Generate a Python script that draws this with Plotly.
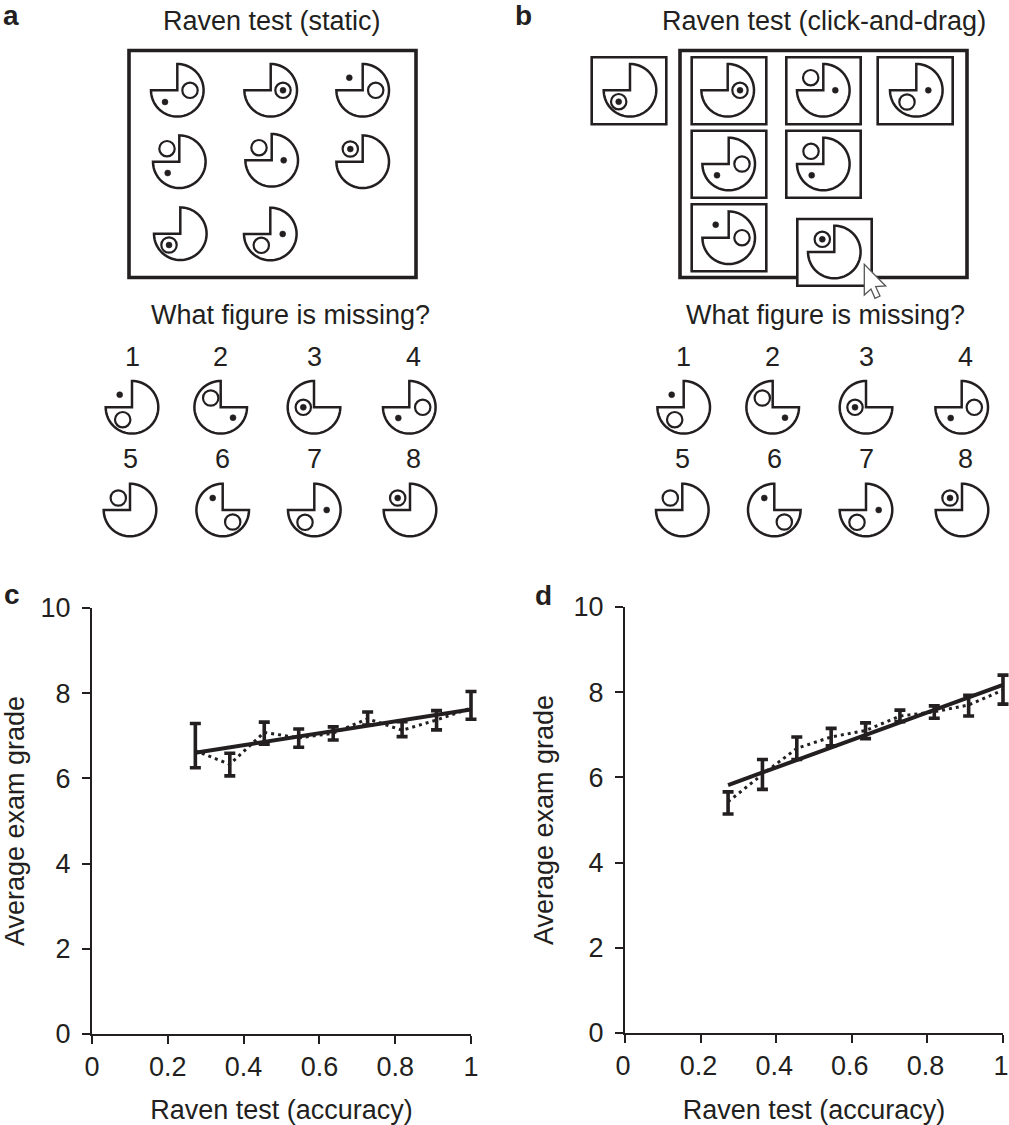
import numpy as np
import plotly.graph_objects as go

W = 1009
H = 1125
INK = "#231f20"
FONT = "Liberation Sans"

# binned accuracy on the Raven test
accuracy = [0.2727, 0.3636, 0.4545, 0.5454, 0.6364, 0.7273, 0.8182, 0.9091, 1.0]

# panel c, static test
grade_c = [6.65, 6.33, 7.08, 6.95, 7.06, 7.40, 7.13, 7.37, 7.65]
upper_c = [7.29, 6.59, 7.32, 7.16, 7.21, 7.56, 7.33, 7.59, 8.04]
lower_c = [6.25, 6.06, 6.80, 6.73, 6.90, 7.25, 6.98, 7.14, 7.39]
fit_x_c = [0.2727, 1.0]
fit_y_c = [6.60, 7.62]

# panel d, click-and-drag test
grade_d = [5.43, 6.07, 6.68, 6.95, 7.10, 7.44, 7.54, 7.70, 8.05]
upper_d = [5.66, 6.42, 6.95, 7.15, 7.28, 7.58, 7.68, 7.93, 8.40]
lower_d = [5.14, 5.72, 6.42, 6.74, 6.91, 7.31, 7.39, 7.44, 7.72]
fit_x_d = [0.2727, 1.0]
fit_y_d = [5.82, 8.17]

x_ticks = [0, 0.2, 0.4, 0.6, 0.8, 1]
x_tick_labels = ["0", "0.2", "0.4", "0.6", "0.8", "1"]
y_ticks = [0, 2, 4, 6, 8, 10]

# puzzle figures: centre x, centre y, missing quadrant, plain ring, dot, ring with dot
matrix_a = [
    (177.3, 90.3, "tl", (190, 90.3), (165, 102), None),
    (270.7, 90.3, "tl", None, None, (283, 90.3)),
    (362.7, 90.3, "tl", (375.7, 90.3), (349.3, 77.7), None),
    (179.3, 161.7, "tl", (167, 148.7), (167.7, 173), None),
    (271.7, 160.3, "tl", (259, 147.7), (283.7, 160.3), None),
    (362.7, 161.7, "tl", None, None, (350.3, 149)),
    (180.3, 233.7, "tl", None, None, (169, 245)),
    (270.3, 234, "tl", (261.3, 245.3), (282.7, 234), None),
]
options_a = [
    (132, 407.3, "tl", (122.7, 419.7), (119.7, 394.7), None),
    (220.7, 407.3, "tr", (210.7, 398), (233, 417.7), None),
    (314, 407.3, "tr", None, None, (303.3, 407.3)),
    (409.3, 407.3, "tl", (422.7, 407.3), (398.3, 418), None),
    (130, 510, "tl", (118.3, 498), None, None),
    (222.7, 510, "tr", (232.7, 522), (212.7, 498), None),
    (314.3, 510, "tl", (305, 522.3), (326.7, 510), None),
    (410, 510, "tl", None, None, (397.7, 498)),
]
options_b = [
    (683.7, 407.3, "tl", (674.7, 419.7), (671.7, 394.7), None),
    (772.7, 407.3, "tr", (762.3, 398), (785, 417.7), None),
    (866, 407.3, "tr", None, None, (855, 407.3)),
    (961.7, 407.3, "tl", (974.3, 407.3), (950.7, 418), None),
    (682.3, 510, "tl", (670.3, 498), None, None),
    (774.3, 510, "tr", (784.3, 522), (764.3, 498), None),
    (866, 510, "tl", (857, 522.3), (878.7, 510), None),
    (962, 510, "tl", None, None, (950, 498)),
]
# same, each one sitting in a box x0, x1, y0, y1
boxed_b = [
    ((591.7, 666.3, 57.3, 124.3), (630, 90.3, "tl", None, None, (618.7, 101.7))),
    ((691.7, 766.3, 57.3, 124.3), (727.7, 90.3, "tl", None, None, (740, 90.3))),
    ((786.3, 860.7, 57.3, 124.3), (823.3, 90.3, "tl", (810.7, 77.7), (835.3, 90.3), None)),
    ((877.7, 952.7, 57.3, 124.3), (916.3, 90.3, "tl", (907, 102), (928.3, 90.3), None)),
    ((691.7, 766.3, 130.7, 197.7), (728.7, 164, "tl", (742, 164), (717, 175.3), None)),
    ((786.3, 860.7, 130.7, 197.7), (823.3, 164, "tl", (811, 151.3), (811.7, 175.3), None)),
    ((691.7, 766.3, 204.3, 271.3), (728.7, 237.7, "tl", (742, 237.7), (715.7, 224.7), None)),
    ((797.3, 871.7, 219, 285.7), (834.3, 252, "tl", None, None, (822.3, 239.3))),
]
cursor = [(864.3, 264.3), (864.3, 295), (871, 289), (875, 298.3), (880, 296), (875.7, 286.7), (885.7, 286)]

# text, x, y, size
labels = [
    ("Raven test (static)", 272, 21, 27),
    ("Raven test (click-and-drag)", 823.5, 21, 27),
    ("What figure is missing?", 290, 315, 27),
    ("What figure is missing?", 825, 315, 27),
    ("1", 132, 357, 27), ("2", 220.7, 357, 27), ("3", 314, 357, 27), ("4", 413.3, 357, 27),
    ("5", 130, 459, 27), ("6", 222.3, 459, 27), ("7", 314, 459, 27), ("8", 413.3, 459, 27),
    ("1", 683.7, 357, 27), ("2", 772.7, 357, 27), ("3", 866, 357, 27), ("4", 965, 357, 27),
    ("5", 682.3, 459, 27), ("6", 774, 459, 27), ("7", 866, 459, 27), ("8", 965, 459, 27),
]
panel_letters = [("a", 11, 15.7), ("b", 523, 15.7), ("c", 12, 594.5), ("d", 543.5, 595.5)]


def px(x):
    return x / W


def py(y):
    return 1 - y / H


def path_from(points, close=True):
    d = "M" + " L".join(f"{px(x):.5f},{py(y):.5f}" for x, y in points)
    return d + (" Z" if close else "")


def disc(cx, cy, r, fill="rgba(0,0,0,0)", lw=2.2):
    return dict(type="circle", xref="paper", yref="paper",
                x0=px(cx - r), x1=px(cx + r), y0=py(cy + r), y1=py(cy - r),
                fillcolor=fill, line=dict(color=INK, width=lw))


def box(x0, x1, y0, y1, lw, fill="rgba(0,0,0,0)"):
    return dict(type="rect", xref="paper", yref="paper",
                x0=px(x0), x1=px(x1), y0=py(y1), y1=py(y0),
                fillcolor=fill, line=dict(color=INK, width=lw))


def puzzle_figure(cx, cy, notch, ring, dot, ring_dot, r=26.3):
    # circle with one quadrant cut out, the arc runs the long way round (screen y goes down)
    if notch == "tl":
        angles = np.radians(np.linspace(270, 540, 61))
    else:
        angles = np.radians(np.linspace(0, 270, 61))
    arc = [(cx + r * np.cos(a), cy + r * np.sin(a)) for a in angles]
    out = [dict(type="path", xref="paper", yref="paper", path=path_from(arc + [(cx, cy)]),
                line=dict(color=INK, width=2.5))]
    if ring:
        out.append(disc(ring[0], ring[1], 7.7))
    if dot:
        out.append(disc(dot[0], dot[1], 3.0, fill=INK, lw=0.5))
    if ring_dot:
        out.append(disc(ring_dot[0], ring_dot[1], 7.7))
        out.append(disc(ring_dot[0], ring_dot[1], 3.0, fill=INK, lw=0.5))
    return out


def add_panel(fig, grade, upper, lower, fit_x, fit_y, xaxis, xaxis_wide, yaxis):
    # error bars sit on a hidden, slightly wider x axis so the caps at 1 are not clipped
    fig.add_trace(go.Scatter(
        x=fit_x, y=fit_y, mode="lines", xaxis=xaxis, yaxis=yaxis,
        line=dict(color=INK, width=4), showlegend=False))
    fig.add_trace(go.Scatter(
        x=accuracy, y=grade, mode="lines", xaxis=xaxis_wide, yaxis=yaxis,
        line=dict(color=INK, width=3, dash="3px,4px"),
        error_y=dict(type="data", symmetric=False,
                     array=[u - g for u, g in zip(upper, grade)],
                     arrayminus=[g - l for l, g in zip(lower, grade)],
                     color=INK, thickness=3.6, width=5.5),
        showlegend=False))


def axis_style(**kw):
    style = dict(showgrid=False, zeroline=False, showline=True, linecolor=INK, linewidth=2,
                 ticks="outside", ticklen=8, tickwidth=1.8, tickcolor=INK, automargin=False,
                 tickfont=dict(family=FONT, size=27, color=INK))
    style.update(kw)
    return style


def main():
    fig = go.Figure()
    add_panel(fig, grade_c, upper_c, lower_c, fit_x_c, fit_y_c, "x", "x3", "y")
    add_panel(fig, grade_d, upper_d, lower_d, fit_x_d, fit_y_d, "x2", "x4", "y2")

    shapes = [box(129, 416, 50.5, 277.5, 3.6), box(680, 967, 50.5, 277.5, 3.6)]
    for fig_def in matrix_a + options_a + options_b:
        shapes += puzzle_figure(*fig_def)
    for (x0, x1, y0, y1), fig_def in boxed_b:
        shapes.append(box(x0, x1, y0, y1, 2.6, fill="white"))
        shapes += puzzle_figure(*fig_def)
    shapes.append(dict(type="path", xref="paper", yref="paper", path=path_from(cursor),
                       fillcolor="white", line=dict(color="#555555", width=1.3)))

    annotations = []
    for text, x, y, size in labels:
        annotations.append(dict(text=text, x=px(x), y=py(y), xref="paper", yref="paper",
                                showarrow=False, xanchor="center", yanchor="middle",
                                font=dict(family=FONT, size=size, color=INK)))
    for text, x, y in panel_letters:
        annotations.append(dict(text=f"<b>{text}</b>", x=px(x), y=py(y), xref="paper", yref="paper",
                                showarrow=False, xanchor="center", yanchor="middle",
                                font=dict(family=FONT, size=28, color=INK)))

    title_font = dict(family=FONT, size=27, color=INK)
    x_title = dict(text="Raven test (accuracy)", font=title_font, standoff=22)
    y_title = dict(text="Average exam grade", font=title_font, standoff=14)
    y_title_d = dict(text="Average exam grade", font=title_font, standoff=12)

    fig.update_layout(
        width=W, height=H, margin=dict(l=0, r=0, t=0, b=0, autoexpand=False),
        paper_bgcolor="white", plot_bgcolor="rgba(0,0,0,0)", showlegend=False,
        shapes=shapes, annotations=annotations,
        xaxis=axis_style(domain=[px(92), px(471)], range=[0, 1], tickvals=x_ticks,
                         ticktext=x_tick_labels, title=x_title, anchor="y",
                         ticklabeloverflow="allow"),
        yaxis=axis_style(domain=[py(1034), py(608)], range=[0, 10], tickvals=y_ticks,
                         title=y_title, anchor="x", ticklabelstandoff=6),
        xaxis2=axis_style(domain=[px(625), px(1003)], range=[0, 1], tickvals=x_ticks,
                          ticktext=x_tick_labels, title=x_title, anchor="y2",
                          ticklabeloverflow="allow", ticklabelshift=-2),
        yaxis2=axis_style(domain=[py(1033), py(607)], range=[0, 10], tickvals=y_ticks,
                          title=y_title_d, anchor="x2", ticklabelstandoff=6),
        xaxis3=dict(domain=[px(92), px(479)], range=[0, 1 + 8 / 379], visible=False, anchor="y"),
        xaxis4=dict(domain=[px(625), px(1009)], range=[0, 1 + 6 / 378], visible=False, anchor="y2"),
    )
    fig.write_html("out.html", config={"displayModeBar": False},
                   post_script="document.body.style.margin='0';")


if __name__ == "__main__":
    main()
